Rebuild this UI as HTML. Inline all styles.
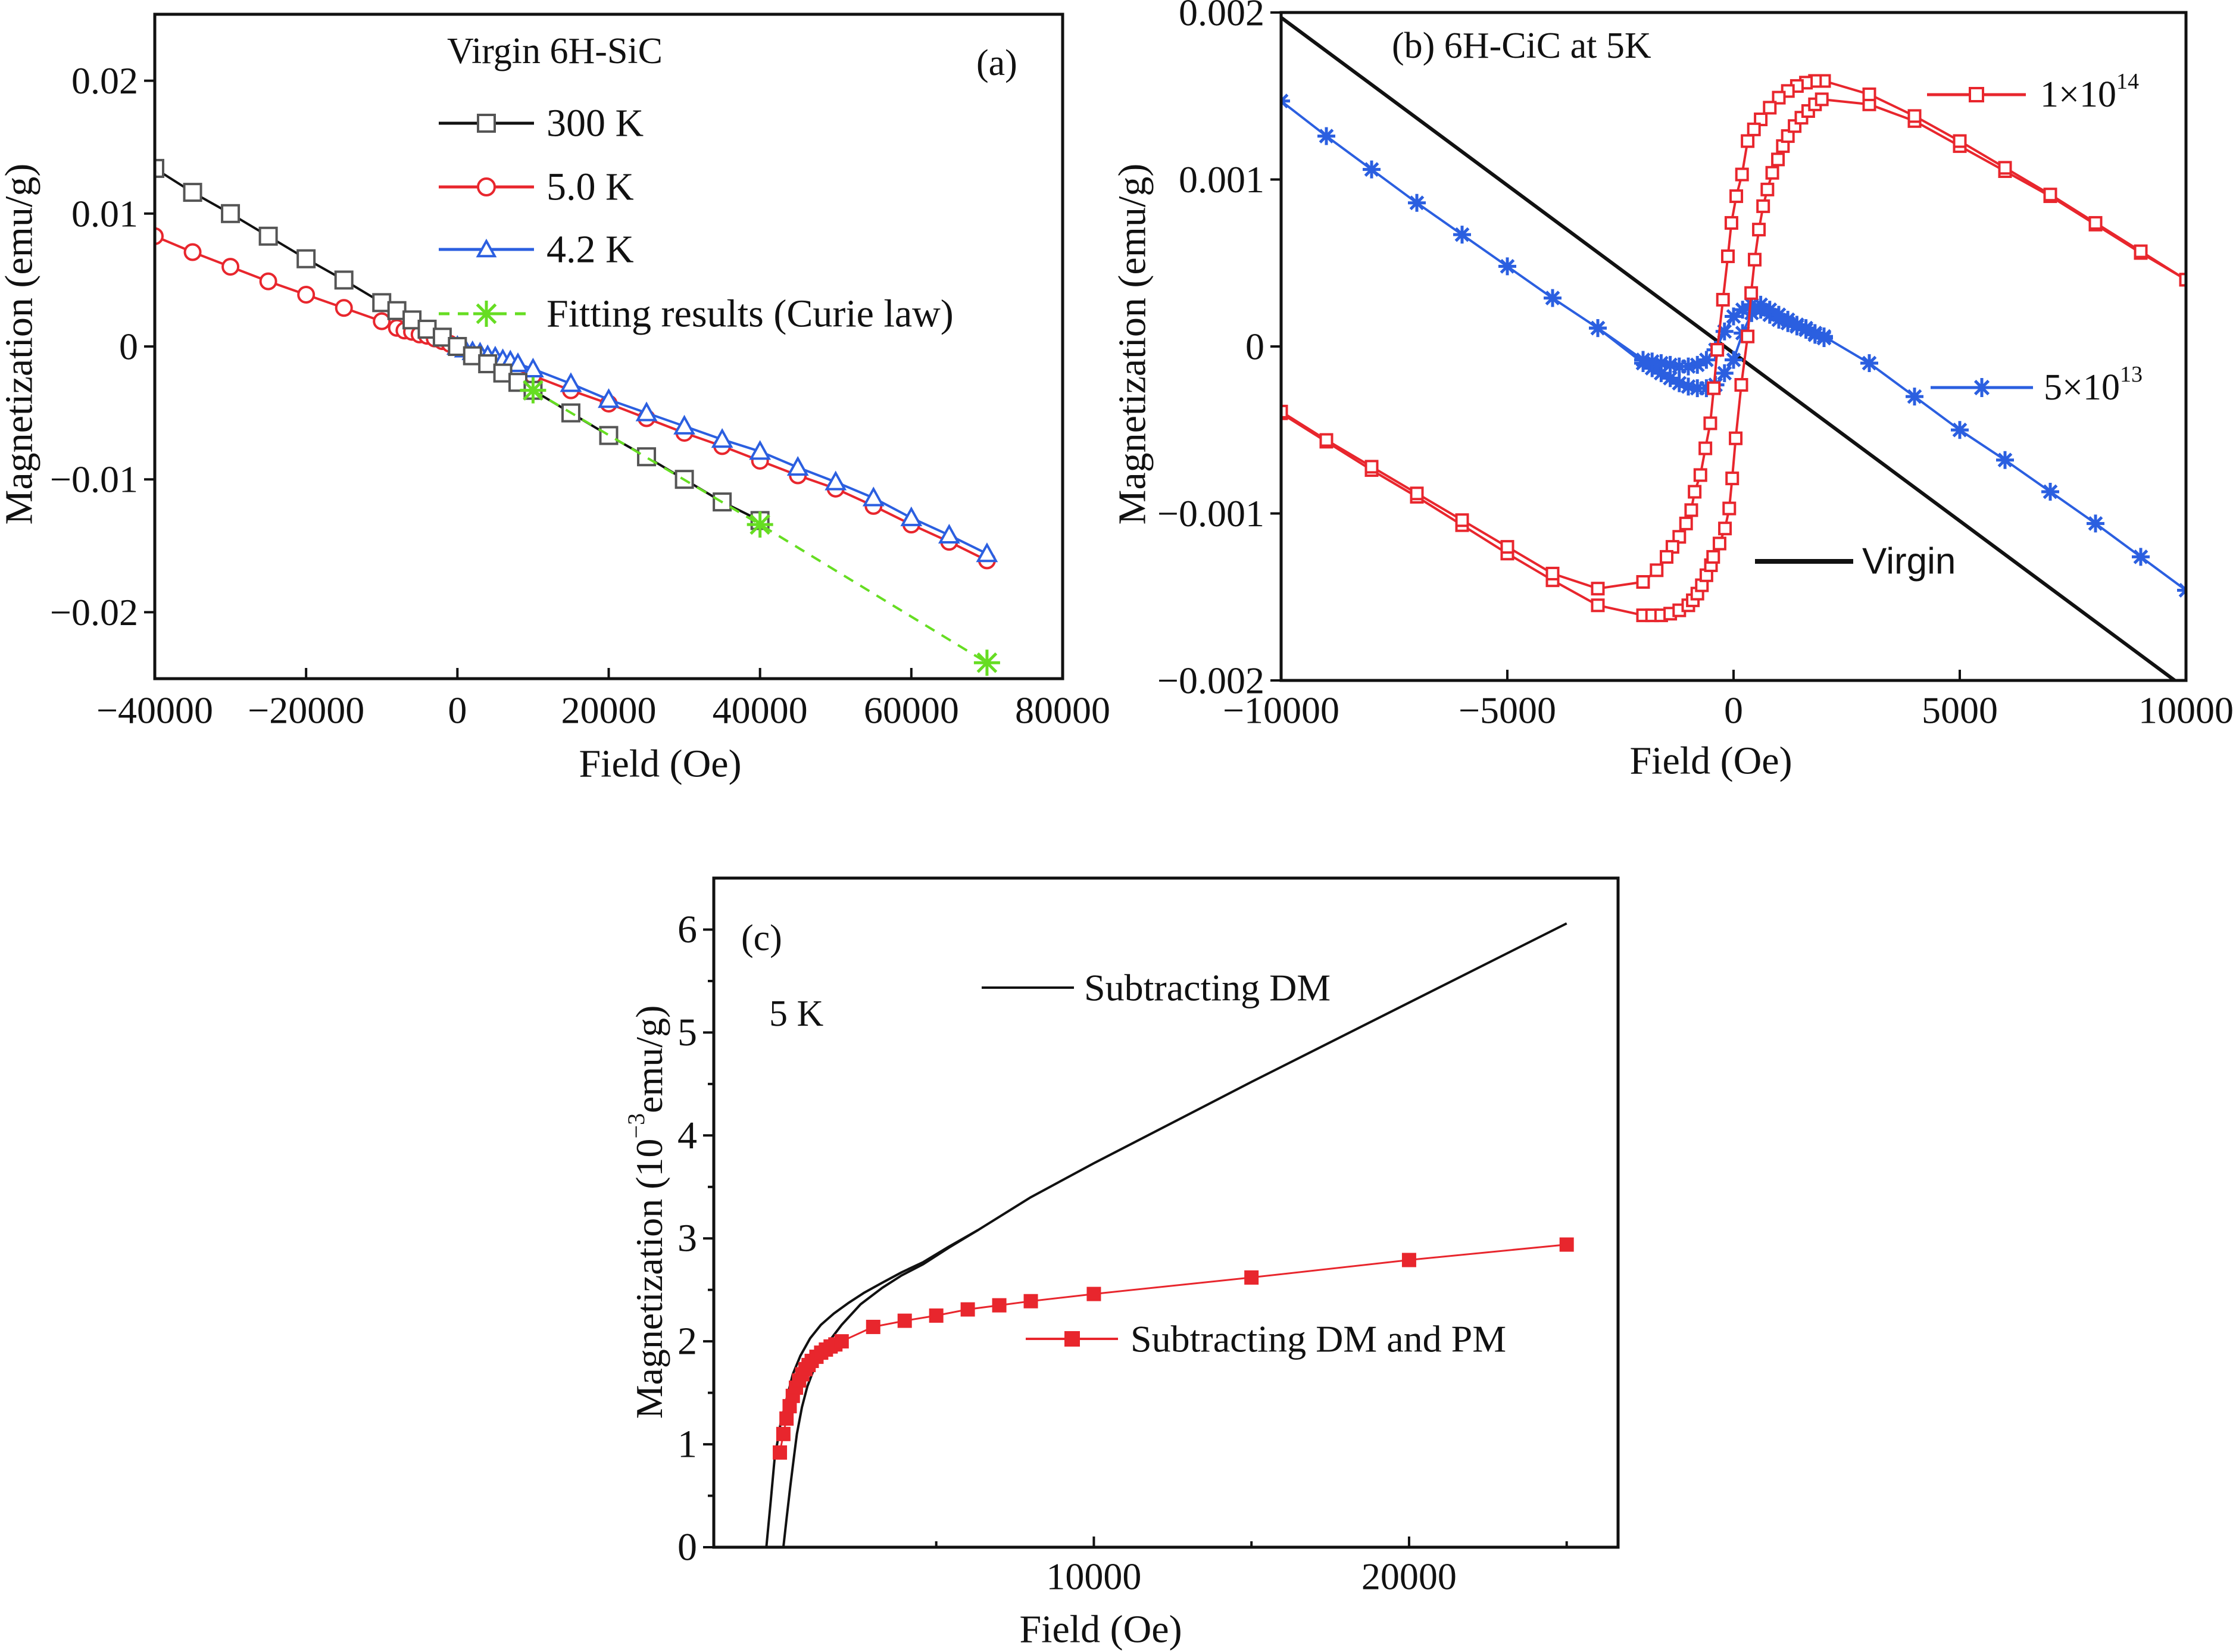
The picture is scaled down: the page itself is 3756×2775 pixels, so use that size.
<!DOCTYPE html>
<html><head><meta charset="utf-8"><style>
html,body{margin:0;padding:0;background:#fff;}
svg{display:block;}
text{font-family:"Liberation Serif",serif;fill:#111;}
</style></head>
<body>
<svg id="fig" xmlns="http://www.w3.org/2000/svg" width="3756" height="2775" viewBox="0 0 3756 2775">
<rect width="3756" height="2775" fill="#fff"/>
</svg>
<script>
// ---------- Panel (a) data ----------
const aX300 = [-40000,-35000,-30000,-25000,-20000,-15000,-10000,-8000,-6000,-4000,-2000,0,2000,4000,6000,8000,10000,15000,20000,25000,30000,35000,40000];
const aY300 = [0.0134,0.0116,0.0100,0.0083,0.0066,0.0050,0.0033,0.0027,0.0020,0.0013,0.0007,0,-0.0007,-0.0013,-0.0020,-0.0027,-0.0033,-0.0050,-0.0067,-0.0083,-0.0100,-0.0117,-0.0131];
const aX5 = [-40000,-35000,-30000,-25000,-20000,-15000,-10000,-8000,-7000,-6000,-5000,-4000,-3000,-2000,-1000,0,5000,10000,15000,20000,25000,30000,35000,40000,45000,50000,55000,60000,65000,70000];
const aY5 = [0.0083,0.0071,0.0060,0.0049,0.0039,0.0029,0.0019,0.0014,0.0012,0.0011,0.0009,0.0008,0.0006,0.0004,0.0002,0,-0.0011,-0.0022,-0.0033,-0.0043,-0.0054,-0.0065,-0.0075,-0.0086,-0.0097,-0.0107,-0.0120,-0.0134,-0.0147,-0.0161];
const aX42 = [0,1000,2000,3000,4000,5000,6000,7000,8000,10000,15000,20000,25000,30000,35000,40000,45000,50000,55000,60000,65000,70000];
const aY42 = [0,-0.0002,-0.0004,-0.0005,-0.0007,-0.0008,-0.0010,-0.0011,-0.0013,-0.0017,-0.0028,-0.0040,-0.0050,-0.0060,-0.0070,-0.0079,-0.0091,-0.0102,-0.0114,-0.0129,-0.0142,-0.0156];
const aXfit = [10000,40000,70000];
const aYfit = [-0.0033,-0.0134,-0.0238];
const aXTicks = [-40000,-20000,0,20000,40000,60000,80000];
const aXTickLabels = ["\u221240000","\u221220000","0","20000","40000","60000","80000"];
const aYTicks = [0.02,0.01,0,-0.01,-0.02];
const aYTickLabels = ["0.02","0.01","0","\u22120.01","\u22120.02"];

// ---------- Panel (b) data ----------
const bXvirgin = [-10000,10000];
const bYvirgin = [0.00197,-0.00205];
const bX13 = [-10000,-9000,-8000,-7000,-6000,-5000,-4000,-3000,-2000,-1800,-1600,-1400,-1200,-1000,-800,-600,-400,-200,0,200,400,600,800,1000,1200,1400,1600,1800,2000,1800,1600,1400,1200,1000,800,600,400,200,0,-200,-400,-600,-800,-1000,-1200,-1400,-1600,-1800,-2000,-3000];
const bY13 = [0.00147,0.00126,0.00106,0.00086,0.00067,0.00048,0.00029,0.00011,-0.00010,-0.00013,-0.00016,-0.00019,-0.00022,-0.00024,-0.00025,-0.00025,-0.00023,-0.00016,-0.00008,0.00008,0.00020,0.00022,0.00019,0.00016,0.00014,0.00012,0.00010,0.00007,0.00005,0.00008,0.00011,0.00013,0.00016,0.00019,0.00022,0.00025,0.00025,0.00022,0.00018,0.00009,-0.00002,-0.00008,-0.00011,-0.00012,-0.00012,-0.00011,-0.00010,-0.00009,-0.00008,0.00011];
const bX13b = [2000,3000,4000,5000,6000,7000,8000,9000,10000];
const bY13b = [0.00006,-0.00010,-0.00030,-0.00050,-0.00068,-0.00087,-0.00106,-0.00126,-0.00146];
const bXasc = [-10000,-9000,-8000,-7000,-6000,-5000,-4000,-3000,-2000,-1800,-1600,-1400,-1200,-1000,-900,-800,-700,-600,-500,-450,-310,-190,-95,-30,47,171,311,390,467,560,654,748,856,981,1090,1200,1350,1500,1650,1800,1950,3000,4000,5000,6000,7000,8000,9000,10000];
const bYasc = [-0.00040,-0.00057,-0.00074,-0.00090,-0.00107,-0.00124,-0.00140,-0.00155,-0.00161,-0.00161,-0.00161,-0.00160,-0.00158,-0.00155,-0.00152,-0.00148,-0.00143,-0.00137,-0.00131,-0.00126,-0.00118,-0.00109,-0.00097,-0.00079,-0.00055,-0.00023,0.00006,0.00032,0.00052,0.00070,0.00084,0.00094,0.00104,0.00112,0.00120,0.00126,0.00132,0.00137,0.00141,0.00145,0.00148,0.00145,0.00135,0.00120,0.00105,0.00090,0.00073,0.00056,0.00040];
const bXdesc = [10000,9000,8000,7000,6000,5000,4000,3000,2000,1800,1600,1400,1200,1000,800,600,450,311,187,60,-47,-125,-234,-360,-437,-514,-623,-733,-860,-935,-1050,-1200,-1350,-1480,-1700,-2000,-3000,-4000,-5000,-6000,-7000,-8000,-9000,-10000];
const bYdesc = [0.00040,0.00057,0.00074,0.00091,0.00107,0.00123,0.00138,0.00151,0.00159,0.00159,0.00158,0.00156,0.00153,0.00149,0.00143,0.00136,0.00130,0.00123,0.00103,0.00090,0.00074,0.00054,0.00028,-0.00002,-0.00025,-0.00046,-0.00061,-0.00077,-0.00087,-0.00098,-0.00106,-0.00114,-0.00120,-0.00126,-0.00134,-0.00141,-0.00145,-0.00136,-0.00120,-0.00104,-0.00088,-0.00072,-0.00056,-0.00039];
const bXTicks = [-10000,-5000,0,5000,10000];
const bXTickLabels = ["\u221210000","\u22125000","0","5000","10000"];
const bYTicks = [0.002,0.001,0,-0.001,-0.002];
const bYTickLabels = ["0.002","0.001","0","\u22120.001","\u22120.002"];

// ---------- Panel (c) data ----------
const cXdm1 = [-390,-250,-130,60,260,450,690,1000,1340,1750,2200,2700,3290,3900,4590,5400,6320,8000,10000,15000,20000,25000];
const cYdm1 = [0,0.45,0.85,1.2,1.45,1.68,1.86,2.03,2.16,2.27,2.37,2.47,2.57,2.67,2.77,2.92,3.08,3.40,3.73,4.52,5.29,6.06];
const cXdm2 = [150,260,370,480,580,740,910,1120,1340,1650,2000,2600,3290,3900,4590,5400,6320];
const cYdm2 = [0,0.30,0.59,0.86,1.10,1.36,1.56,1.73,1.86,2.02,2.16,2.36,2.52,2.64,2.75,2.91,3.08];
const cXpm = [40,150,250,350,450,550,650,750,850,950,1050,1200,1350,1500,1650,1800,2000,3000,4000,5000,6000,7000,8000,10000,15000,20000,25000];
const cYpm = [0.92,1.10,1.25,1.37,1.47,1.55,1.62,1.68,1.73,1.77,1.81,1.85,1.89,1.92,1.95,1.97,2.00,2.14,2.20,2.25,2.31,2.35,2.39,2.46,2.62,2.79,2.94];
const cXTicks = [10000,20000];
const cXTickLabels = ["10000","20000"];
const cXMinor = [5000,15000,25000];
const cYTicks = [0,1,2,3,4,5,6];
const cYTickLabels = ["0","1","2","3","4","5","6"];

const NS = "http://www.w3.org/2000/svg";
const svg = document.getElementById('fig');
function el(tag, attrs, parent){
  const e = document.createElementNS(NS, tag);
  for (const k in attrs) e.setAttribute(k, attrs[k]);
  (parent||svg).appendChild(e);
  return e;
}
function txt(s, x, y, size, anchor, parent, extra){
  const t = el('text', {x:x, y:y, 'font-size':size, 'text-anchor':anchor||'start', 'dominant-baseline':'central'}, parent);
  if (extra) for (const k in extra) t.setAttribute(k, extra[k]);
  t.textContent = s;
  return t;
}
function scale(d0,d1,r0,r1){ return v => r0 + (v-d0)/(d1-d0)*(r1-r0); }
function pathFrom(xs, ys, sx, sy){
  return xs.map((x,i)=>(i?'L':'M')+sx(x).toFixed(1)+','+sy(ys[i]).toFixed(1)).join(' ');
}
function marker(type, x, y, color, s, parent){
  let m;
  if (type==='sq') m = el('rect',{x:x-s/2,y:y-s/2,width:s,height:s,fill:'#fff',stroke:color,'stroke-width':4},parent);
  else if (type==='fsq') m = el('rect',{x:x-s/2,y:y-s/2,width:s,height:s,fill:color,stroke:color,'stroke-width':2},parent);
  else if (type==='circ') m = el('circle',{cx:x,cy:y,r:s/2,fill:'#fff',stroke:color,'stroke-width':4},parent);
  else if (type==='tri') m = el('path',{d:`M${x},${y-s/2} L${x+s/2},${y+s/2*0.8} L${x-s/2},${y+s/2*0.8} Z`,fill:'#fff',stroke:color,'stroke-width':4},parent);
  else if (type==='star'){
    let d=''; for (let k=0;k<4;k++){const a=k*Math.PI/4; d+=`M${x-Math.cos(a)*s/2},${y-Math.sin(a)*s/2} L${x+Math.cos(a)*s/2},${y+Math.sin(a)*s/2} `;}
    m = el('path',{d:d,stroke:color,'stroke-width':5,fill:'none'},parent);
  }
  return m;
}
function series(name, xs, ys, sx, sy, color, mtype, msize, dash, lw){
  const g = el('g',{});
  
  
  const p = el('path',{d:pathFrom(xs,ys,sx,sy),fill:'none',stroke:color,'stroke-width':lw||4,'stroke-linejoin':'round'},g);
  if (dash) p.setAttribute('stroke-dasharray', dash);
  if (mtype) xs.forEach((x,i)=>{
    const m = marker(mtype, sx(x), sy(ys[i]), color, msize, g);
    
    
  });
  return g;
}
function frame(name, L,T,R,B){
  const r = el('rect',{x:L,y:T,width:R-L,height:B-T,fill:'none',stroke:'#111','stroke-width':5});
  
  
}
const FS = 64;

// ================= Panel (a) =================
(function(){
  const L=260,R=1785,T=24,B=1140;
  const sx = scale(-40000,80000,L,R), sy = scale(-0.025,0.025,B,T);
  const clip = el('clipPath',{id:'ca'}); el('rect',{x:L,y:T,width:R-L,height:B-T},clip);
  const g = el('g',{'clip-path':'url(#ca)'});
  
  
  g.appendChild(series('series-300k', aX300, aY300, sx, sy, '#111', null, 0));
  g.appendChild(series('series-5k', aX5, aY5, sx, sy, '#e8262d', 'circ', 26));
  g.appendChild(series('series-4-2k', aX42, aY42, sx, sy, '#2b5fe0', 'tri', 30));
  const s3 = series('series-300k-markers', aX300, aY300, sx, sy, '#555', 'sq', 28);
  s3.querySelector('path').setAttribute('stroke','none');
  g.appendChild(s3);
  g.appendChild(series('series-curie-fit', aXfit, aYfit, sx, sy, '#66dd22', 'star', 44, '18,14'));
  frame('panel-a-frame', L,T,R,B);
  aXTicks.forEach((v,i)=>{
    el('line',{x1:sx(v),y1:B,x2:sx(v),y2:B-18,stroke:'#111','stroke-width':4});
    const t = txt(aXTickLabels[i], sx(v), 1193, FS, 'middle');
     
  });
  aYTicks.forEach((v,i)=>{
    el('line',{x1:L,y1:sy(v),x2:L-18,y2:sy(v),stroke:'#111','stroke-width':4});
    const t = txt(aYTickLabels[i], L-28, sy(v), FS, 'end');
     
  });
  let t = txt('Field (Oe)', 1109, 1283, 66, 'middle');  
  t = txt('Magnetization (emu/g)', 0, 0, 66, 'middle', null, {transform:'translate(32,578) rotate(-90)'});  
  t = txt('Virgin 6H-SiC', 751, 86, 62, 'start');  
  t = txt('(a)', 1640, 106, 62, 'start');  
  const leg = [['300 K','#111','sq',207,'#555',null],['5.0 K','#e8262d','circ',314,'#e8262d',null],['4.2 K','#2b5fe0','tri',419,'#2b5fe0',null],['Fitting results (Curie law)','#66dd22','star',527,'#66dd22','18,14']];
  leg.forEach(l=>{
    const lg = el('g',{});
     
    const ln = el('line',{x1:737,y1:l[3],x2:897,y2:l[3],stroke:l[1],'stroke-width':5},lg);
    if (l[5]) ln.setAttribute('stroke-dasharray', l[5]);
    marker(l[2], 817, l[3], l[4], l[2]==='star'?44:28, lg);
    txt(l[0], 918, l[3], 66, 'start', lg);
  });
})();

// ================= Panel (b) =================
(function(){
  const L=2152,R=3672,T=21,B=1143;
  const sx = scale(-10000,10000,L,R), sy = scale(-0.002,0.002,B,T);
  const clip = el('clipPath',{id:'cb'}); el('rect',{x:L,y:T,width:R-L,height:B-T},clip);
  const g = el('g',{'clip-path':'url(#cb)'});
  
  
  g.appendChild(series('series-virgin', bXvirgin, bYvirgin, sx, sy, '#111', null, 0, null, 6));
  g.appendChild(series('series-5e13-loop', bX13, bY13, sx, sy, '#2b5fe0', 'star', 30));
  g.appendChild(series('series-5e13-right', bX13b, bY13b, sx, sy, '#2b5fe0', 'star', 30));
  g.appendChild(series('series-1e14-ascending', bXasc, bYasc, sx, sy, '#e8262d', 'sq', 19));
  g.appendChild(series('series-1e14-descending', bXdesc, bYdesc, sx, sy, '#e8262d', 'sq', 19));
  frame('panel-b-frame', L,T,R,B);
  bXTicks.forEach((v,i)=>{
    el('line',{x1:sx(v),y1:B,x2:sx(v),y2:B-18,stroke:'#111','stroke-width':4});
    const t = txt(bXTickLabels[i], sx(v), 1193, FS, 'middle');
     
  });
  bYTicks.forEach((v,i)=>{
    el('line',{x1:L,y1:sy(v),x2:L-18,y2:sy(v),stroke:'#111','stroke-width':4});
    const t = txt(bYTickLabels[i], L-28, sy(v), FS, 'end');
     
  });
  let t = txt('Field (Oe)', 2874, 1278, 66, 'middle');  
  t = txt('Magnetization (emu/g)', 0, 0, 66, 'middle', null, {transform:'translate(1902,578) rotate(-90)'});  
  t = txt('(b) 6H-CiC at 5K', 2338, 77, 62, 'start');  
  let lg = el('g',{});  
  el('line',{x1:3237,y1:159,x2:3403,y2:159,stroke:'#e8262d','stroke-width':5},lg);
  marker('sq',3320,159,'#e8262d',22,lg);
  const t1 = txt('1×10', 3427, 159, 62, 'start', lg);
  const sp1 = el('tspan',{'font-size':38,dy:-22},t1); sp1.textContent='14';
  lg = el('g',{});  
  el('line',{x1:3243,y1:651,x2:3415,y2:651,stroke:'#2b5fe0','stroke-width':5},lg);
  marker('star',3329,651,'#2b5fe0',32,lg);
  const t2 = txt('5×10', 3433, 651, 62, 'start', lg);
  const sp2 = el('tspan',{'font-size':38,dy:-22},t2); sp2.textContent='13';
  lg = el('g',{});  
  el('line',{x1:2948,y1:943,x2:3113,y2:943,stroke:'#111','stroke-width':8},lg);
  txt('Virgin', 3128, 943, 62, 'start', lg, {style:'font-family:"Liberation Sans",sans-serif'});
})();

// ================= Panel (c) =================
(function(){
  const L=1199,R=2718,T=1475,B=2599;
  const sx = scale(-2057,26630,L,R), sy = scale(0,6.5,B,T);
  const clip = el('clipPath',{id:'cc'}); el('rect',{x:L,y:T,width:R-L,height:B-T},clip);
  const g = el('g',{'clip-path':'url(#cc)'});
  
  
  g.appendChild(series('series-dm-branch1', cXdm1, cYdm1, sx, sy, '#111', null, 0));
  g.appendChild(series('series-dm-branch2', cXdm2, cYdm2, sx, sy, '#111', null, 0));
  g.appendChild(series('series-dm-pm', cXpm, cYpm, sx, sy, '#e8262d', 'fsq', 22, null, 3));
  frame('panel-c-frame', L,T,R,B);
  cXTicks.forEach((v,i)=>{
    el('line',{x1:sx(v),y1:B,x2:sx(v),y2:B-18,stroke:'#111','stroke-width':4});
    const t = txt(cXTickLabels[i], sx(v), 2648, FS, 'middle');
     
  });
  cXMinor.forEach(v=>{ el('line',{x1:sx(v),y1:B,x2:sx(v),y2:B-10,stroke:'#111','stroke-width':4}); });
  cYTicks.forEach((v,i)=>{
    el('line',{x1:L,y1:sy(v),x2:L-18,y2:sy(v),stroke:'#111','stroke-width':4});
    if (v<6) el('line',{x1:L,y1:sy(v+0.5),x2:L-10,y2:sy(v+0.5),stroke:'#111','stroke-width':4});
    const t = txt(cYTickLabels[i], L-28, sy(v), 66, 'end');
     
  });
  let t = txt('Field (Oe)', 1849, 2737, 66, 'middle');  
  t = txt('', 0, 0, 64, 'middle', null, {transform:'translate(1090,2036) rotate(-90)'});
  const a1 = el('tspan',{},t); a1.textContent='Magnetization (10';
  const a2 = el('tspan',{'font-size':40,dy:-22},t); a2.textContent='\u22123';
  const a3 = el('tspan',{dy:22},t); a3.textContent='emu/g)';
   
  t = txt('(c)', 1245, 1576, 62, 'start');  
  t = txt('5 K', 1292, 1703, 62, 'start');  
  let lg = el('g',{});  
  el('line',{x1:1649,y1:1659,x2:1804,y2:1659,stroke:'#111','stroke-width':4},lg);
  txt('Subtracting DM', 1821, 1659, 64, 'start', lg);
  lg = el('g',{});  
  el('line',{x1:1723,y1:2249,x2:1878,y2:2249,stroke:'#e8262d','stroke-width':4},lg);
  marker('fsq',1801,2249,'#e8262d',24,lg);
  txt('Subtracting DM and PM', 1899, 2249, 64, 'start', lg);
})();
</script>
</body></html>
